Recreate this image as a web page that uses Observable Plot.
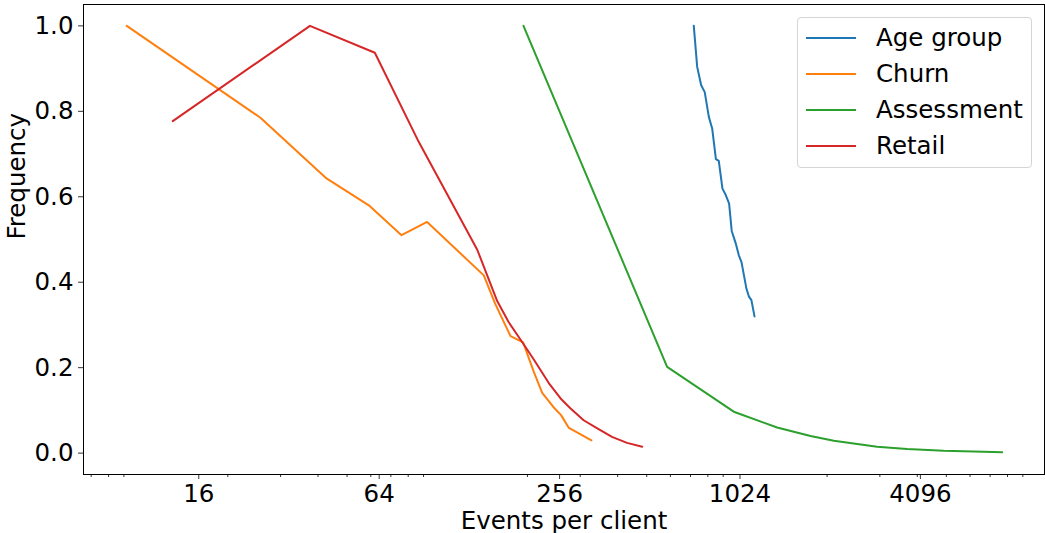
<!DOCTYPE html>
<html><head><meta charset="utf-8">
<script src="https://cdn.jsdelivr.net/npm/d3@7"></script>
<script src="https://cdn.jsdelivr.net/npm/@observablehq/plot@0.6"></script>
<style>
body{margin:0;background:#fff;font-family:"DejaVu Sans",sans-serif;}
#wrap{position:relative;width:1045px;height:533px;}
.legend{position:absolute;left:797px;top:17px;width:235px;height:151px;border:1px solid #d4d4d4;border-radius:4px;background:rgba(255,255,255,0.8);box-sizing:border-box;}
.sw{position:absolute;left:8px;width:50px;height:2px;}
.lab{position:absolute;left:78px;font-size:24.5px;line-height:24px;white-space:nowrap;color:#000;}
</style></head>
<body><div id="wrap"></div>
<script>
const seriesNames = ["Age group", "Churn", "Assessment", "Retail"];
const seriesColors = ["#1f77b4", "#ff7f0e", "#2ca02c", "#d62728"];

const ageX = [718, 737, 760, 781, 806, 827, 851, 870, 895, 918, 942, 961, 991, 1015, 1036, 1076, 1096, 1118, 1145];
const ageY = [1.0, 0.904, 0.861, 0.845, 0.787, 0.760, 0.688, 0.684, 0.619, 0.604, 0.584, 0.520, 0.491, 0.463, 0.447, 0.385, 0.367, 0.358, 0.320];

const churnX = [9.2, 25.7, 42.7, 59.1, 76, 92.5, 143, 156, 175.6, 193.5, 210, 224, 244, 259, 275, 327];
const churnY = [1.0, 0.785, 0.643, 0.580, 0.510, 0.541, 0.416, 0.350, 0.274, 0.259, 0.190, 0.141, 0.108, 0.089, 0.059, 0.030];

const assessX = [194, 585, 976, 1362, 1761, 2106, 2937, 3699, 4900, 6170, 7680];
const assessY = [1.0, 0.202, 0.097, 0.060, 0.040, 0.029, 0.015, 0.0094, 0.0055, 0.004, 0.002];

const retailX = [13.1, 37.6, 61.9, 86.8, 136, 158.5, 173, 192, 210, 235.6, 258, 278, 308, 342, 383, 430, 483];
const retailY = [0.777, 1.0, 0.937, 0.728, 0.476, 0.356, 0.307, 0.260, 0.219, 0.164, 0.128, 0.105, 0.077, 0.058, 0.038, 0.024, 0.015];

const xTicks = [16, 64, 256, 1024, 4096];
const xMinorTicks = [7, 8, 9, 20, 30, 40, 50, 60, 70, 80, 90, 200, 300, 400, 500, 600, 700, 800, 900, 2000, 3000, 4000, 5000, 6000, 7000, 8000, 9000];
const yTicks = [0, 0.2, 0.4, 0.6, 0.8, 1.0];
const xLabel = "Events per client";
const yLabel = "Frequency";

const data = [];
function add(name, xs, ys) { xs.forEach((x, i) => data.push({series: name, x, y: ys[i]})); }
add("Age group", ageX, ageY);
add("Churn", churnX, churnY);
add("Assessment", assessX, assessY);
add("Retail", retailX, retailY);

const chart = Plot.plot({
  width: 1045, height: 533,
  marginLeft: 83, marginRight: 1, marginTop: 4, marginBottom: 59,
  style: {fontFamily: "DejaVu Sans", fontSize: "24.5px", color: "black", background: "white", overflow: "visible"},
  x: {type: "log", base: 2, domain: [2 ** 2.722, 2 ** 13.376]},
  y: {domain: [-0.05, 1.05]},
  color: {domain: seriesNames, range: seriesColors},
  marks: [
    Plot.axisX({ticks: xMinorTicks, tickSize: 3, tickFormat: () => "", label: null, strokeWidth: 0.8}),
    Plot.axisX({ticks: xTicks, tickSize: 5, tickPadding: 5, tickFormat: d => String(d), label: null, fontSize: 24.5, strokeWidth: 0.8}),
    Plot.axisY({ticks: yTicks, tickSize: 5, tickPadding: 5, tickFormat: d3.format(".1f"), label: null, fontSize: 24.5, strokeWidth: 0.8}),
    Plot.line(data, {x: "x", y: "y", z: "series", stroke: "series", strokeWidth: 2}),
    Plot.frame({stroke: "black", strokeWidth: 1}),
    Plot.text([xLabel], {frameAnchor: "bottom", lineAnchor: "top", dy: 37, fontSize: 24.5}),
    Plot.text([yLabel], {frameAnchor: "left", rotate: -90, dx: -66, fontSize: 24.5})
  ]
});

const wrap = document.getElementById("wrap");
wrap.appendChild(chart);

const legend = document.createElement("div");
legend.className = "legend";
const rowCenters = [19.7, 55.8, 92, 128];
seriesNames.forEach((name, i) => {
  const sw = document.createElement("div");
  sw.className = "sw";
  sw.style.top = (rowCenters[i] - 1) + "px";
  sw.style.background = seriesColors[i];
  legend.appendChild(sw);
  const lab = document.createElement("div");
  lab.className = "lab";
  lab.style.top = (rowCenters[i] - 11.7) + "px";
  lab.textContent = name;
  legend.appendChild(lab);
});
wrap.appendChild(legend);
</script>
</body></html>
